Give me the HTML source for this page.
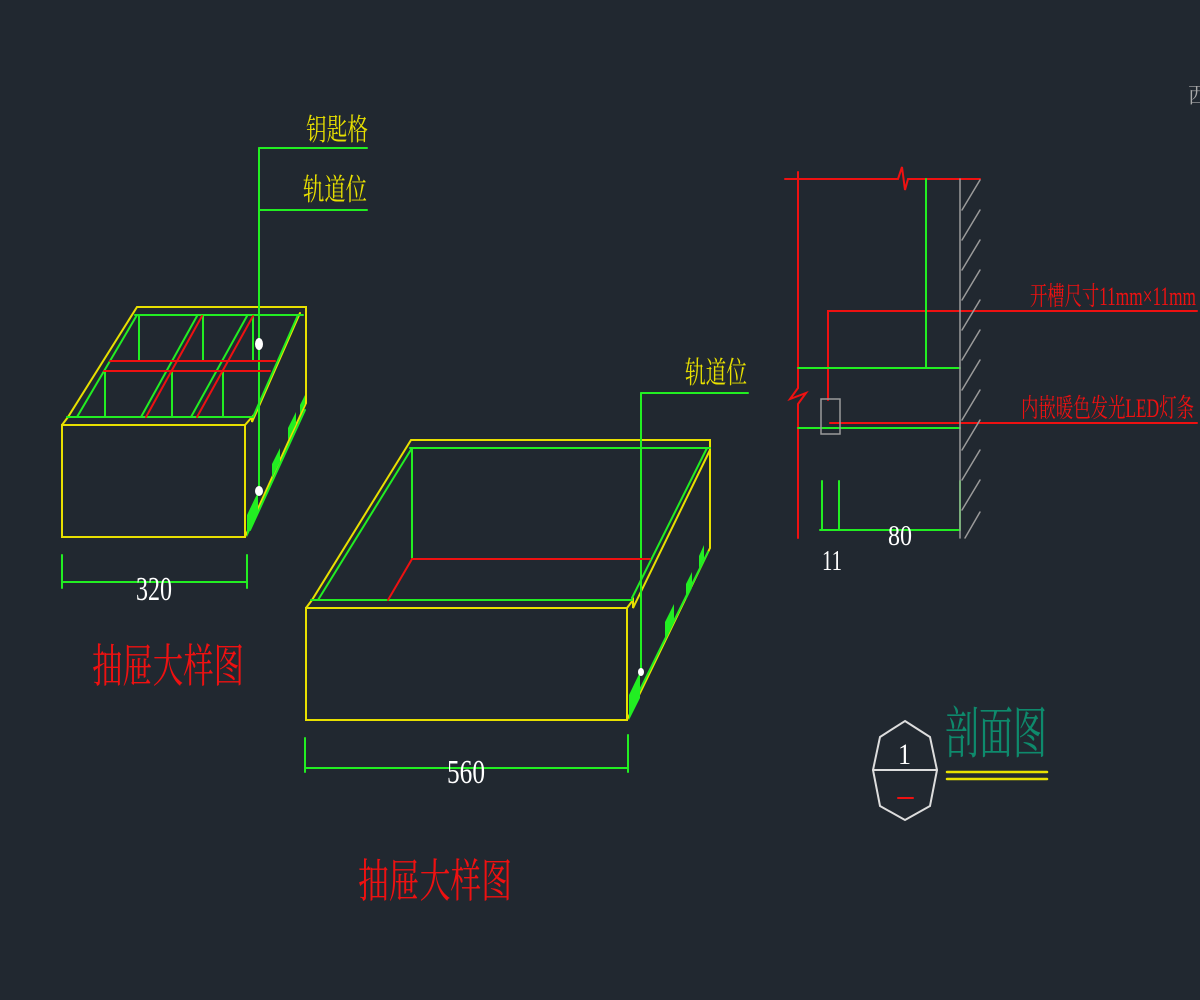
<!DOCTYPE html>
<html><head><meta charset="utf-8"><style>
html,body{margin:0;padding:0;background:#212830;}
svg{display:block}
.s{font-family:"Liberation Serif","Noto Serif CJK SC",serif;}
</style></head><body>
<svg width="1200" height="1000" viewBox="0 0 1200 1000" xmlns="http://www.w3.org/2000/svg">
<rect width="1200" height="1000" fill="#212830"/>
<g fill="none" stroke-width="2" stroke-linecap="round">
<!-- small box -->
<g stroke="#e8e000">
<rect x="62" y="425" width="183" height="112"/>
<polyline points="62,425 68,417 137,307 306,307 306,403"/>
<line x1="245" y1="537" x2="306" y2="403"/>
<polyline points="245,425 252,417 252,422 300,313"/>
</g>
<g stroke="#22ee22">
<line x1="67" y1="417" x2="252" y2="417"/>
<line x1="135" y1="315" x2="303" y2="315"/>
<line x1="77" y1="417" x2="137" y2="315"/>
<line x1="253" y1="417" x2="298" y2="315"/>
<line x1="139" y1="315" x2="139" y2="361"/><line x1="203" y1="315" x2="203" y2="361"/><line x1="253" y1="315" x2="253" y2="361"/>
<line x1="105" y1="371" x2="105" y2="417"/><line x1="172" y1="371" x2="172" y2="417"/><line x1="223" y1="371" x2="223" y2="417"/>
<line x1="141" y1="417" x2="197" y2="316"/><line x1="191" y1="417" x2="247" y2="316"/>
<line x1="259" y1="148" x2="259" y2="495"/>
<line x1="259" y1="148" x2="367" y2="148"/><line x1="259" y1="210" x2="367" y2="210"/>
<line x1="62" y1="582" x2="247" y2="582"/><line x1="62" y1="555" x2="62" y2="588"/><line x1="247" y1="555" x2="247" y2="588"/>
<line x1="250" y1="530" x2="305" y2="410"/>
</g>
<g stroke="#ee1111">
<line x1="110" y1="361" x2="275" y2="361"/><line x1="104" y1="371" x2="270" y2="371"/>
<line x1="146" y1="417" x2="202" y2="316"/><line x1="197" y1="417" x2="253" y2="316"/>
</g>
<!-- large box -->
<g stroke="#e8e000">
<rect x="306" y="608" width="321" height="112"/>
<polyline points="306,608 312,600 411,440 710,440 710,548"/>
<line x1="627" y1="720" x2="710" y2="548"/>
<polyline points="627,608 633,600 633,608 710,450"/>
</g>
<g stroke="#22ee22">
<line x1="311" y1="600" x2="632" y2="600"/>
<line x1="410" y1="448" x2="710" y2="448"/>
<line x1="318" y1="600" x2="412" y2="448"/>
<line x1="412" y1="448" x2="412" y2="559"/>
<line x1="632" y1="598" x2="707" y2="448"/>
<line x1="641" y1="393" x2="641" y2="672"/><line x1="641" y1="393" x2="748" y2="393"/>
<line x1="305" y1="768" x2="628" y2="768"/><line x1="305" y1="738" x2="305" y2="772"/><line x1="628" y1="735" x2="628" y2="772"/>
<line x1="630" y1="710" x2="708" y2="552"/>
</g>
<g stroke="#ee1111">
<line x1="412" y1="559" x2="650" y2="559"/><line x1="412" y1="559" x2="388" y2="600"/>
</g>
<!-- section -->
<g stroke="#ee1111">
<polyline points="785,179 898,179 902,167 905,190 908,179 980,179"/>
<polyline points="798,172 798,388 790,399 806,393 798,404 798,538"/>
<polyline points="828,400 828,311 1197,311"/>
<line x1="830" y1="423" x2="1197" y2="423"/>
</g>
<g stroke="#22ee22">
<line x1="926" y1="179" x2="926" y2="368"/>
<line x1="798" y1="368" x2="960" y2="368"/><line x1="798" y1="428" x2="960" y2="428"/>
<line x1="822" y1="481" x2="822" y2="530"/><line x1="839" y1="481" x2="839" y2="530"/><line x1="960" y1="481" x2="960" y2="530"/>
<line x1="820" y1="530" x2="960" y2="530"/>
</g>
<g stroke="#9a9a9a" stroke-width="1.5">
<line x1="960" y1="179" x2="960" y2="538"/>
<rect x="821" y="399" width="19" height="35"/>
<line x1="962" y1="210" x2="980" y2="180"/><line x1="962" y1="240" x2="980" y2="210"/><line x1="962" y1="270" x2="980" y2="240"/><line x1="962" y1="300" x2="980" y2="270"/><line x1="962" y1="330" x2="980" y2="300"/><line x1="962" y1="360" x2="980" y2="330"/><line x1="962" y1="390" x2="980" y2="360"/><line x1="962" y1="420" x2="980" y2="390"/><line x1="962" y1="450" x2="980" y2="420"/><line x1="962" y1="480" x2="980" y2="450"/><line x1="962" y1="510" x2="980" y2="480"/><line x1="965" y1="538" x2="980" y2="512"/>
</g>
<!-- symbol -->
<g stroke="#dddddd">
<polygon points="905,721 930,737 937,770 930,806 905,820 880,806 873,770 880,737"/>
<line x1="873" y1="770" x2="937" y2="770"/>
</g>
<line x1="898" y1="798" x2="913" y2="798" stroke="#ee1111"/>
<line x1="947" y1="772" x2="1047" y2="772" stroke="#e8e000" stroke-width="2.5"/>
<line x1="947" y1="779" x2="1047" y2="779" stroke="#e8e000" stroke-width="2.5"/>
</g>
<!-- green fills -->
<g fill="#22ee22">
<polygon points="247,537 247,515 258,492 258,513"/>
<polygon points="272,478 280,462 280,448 272,464"/>
<polygon points="288,440 296,424 296,412 288,428"/>
<polygon points="300,414 305,404 305,395 300,405"/>
<polygon points="629,720 629,695 640,672 640,698"/>
<polygon points="665,640 674,622 674,604 665,622"/>
<polygon points="686,600 692,588 692,572 686,584"/>
<polygon points="699,568 704,558 704,545 699,556"/>
</g>
<g fill="#ffffff"><ellipse cx="259" cy="344" rx="4" ry="6"/><ellipse cx="259" cy="491" rx="4" ry="5"/><ellipse cx="641" cy="672" rx="3" ry="4"/></g>
<g class="s">
<text x="306" y="140" fill="#e8e000" font-size="30" textLength="62" lengthAdjust="spacingAndGlyphs">钥匙格</text>
<text x="303" y="200" fill="#e8e000" font-size="30" textLength="64" lengthAdjust="spacingAndGlyphs">轨道位</text>
<text x="685" y="383" fill="#e8e000" font-size="30" textLength="62" lengthAdjust="spacingAndGlyphs">轨道位</text>
<text x="136" y="600" fill="#ffffff" font-size="34" textLength="36" lengthAdjust="spacingAndGlyphs">320</text>
<text x="447" y="783" fill="#ffffff" font-size="34" textLength="38" lengthAdjust="spacingAndGlyphs">560</text>
<text x="888" y="545" fill="#ffffff" font-size="28" textLength="24" lengthAdjust="spacingAndGlyphs">80</text>
<text x="822" y="570" fill="#ffffff" font-size="28" textLength="20" lengthAdjust="spacingAndGlyphs">11</text>
<text x="92" y="682" fill="#ee1111" font-size="46" textLength="152" lengthAdjust="spacingAndGlyphs">抽屉大样图</text>
<text x="358" y="897" fill="#ee1111" font-size="46" textLength="154" lengthAdjust="spacingAndGlyphs">抽屉大样图</text>
<text x="1030" y="305" fill="#ee1111" font-size="26" textLength="166" lengthAdjust="spacingAndGlyphs">开槽尺寸11mm×11mm</text>
<text x="1021" y="417" fill="#ee1111" font-size="26" textLength="173" lengthAdjust="spacingAndGlyphs">内嵌暖色发光LED灯条</text>
<text x="898" y="764" fill="#ffffff" font-size="30" textLength="13" lengthAdjust="spacingAndGlyphs">1</text>
<text x="945" y="753" fill="#0e8a6c" font-size="56" textLength="102" lengthAdjust="spacingAndGlyphs">剖面图</text>
<text x="1188" y="103" fill="#aaaaaa" font-size="22">西</text>
</g>
</svg>
</body></html>
